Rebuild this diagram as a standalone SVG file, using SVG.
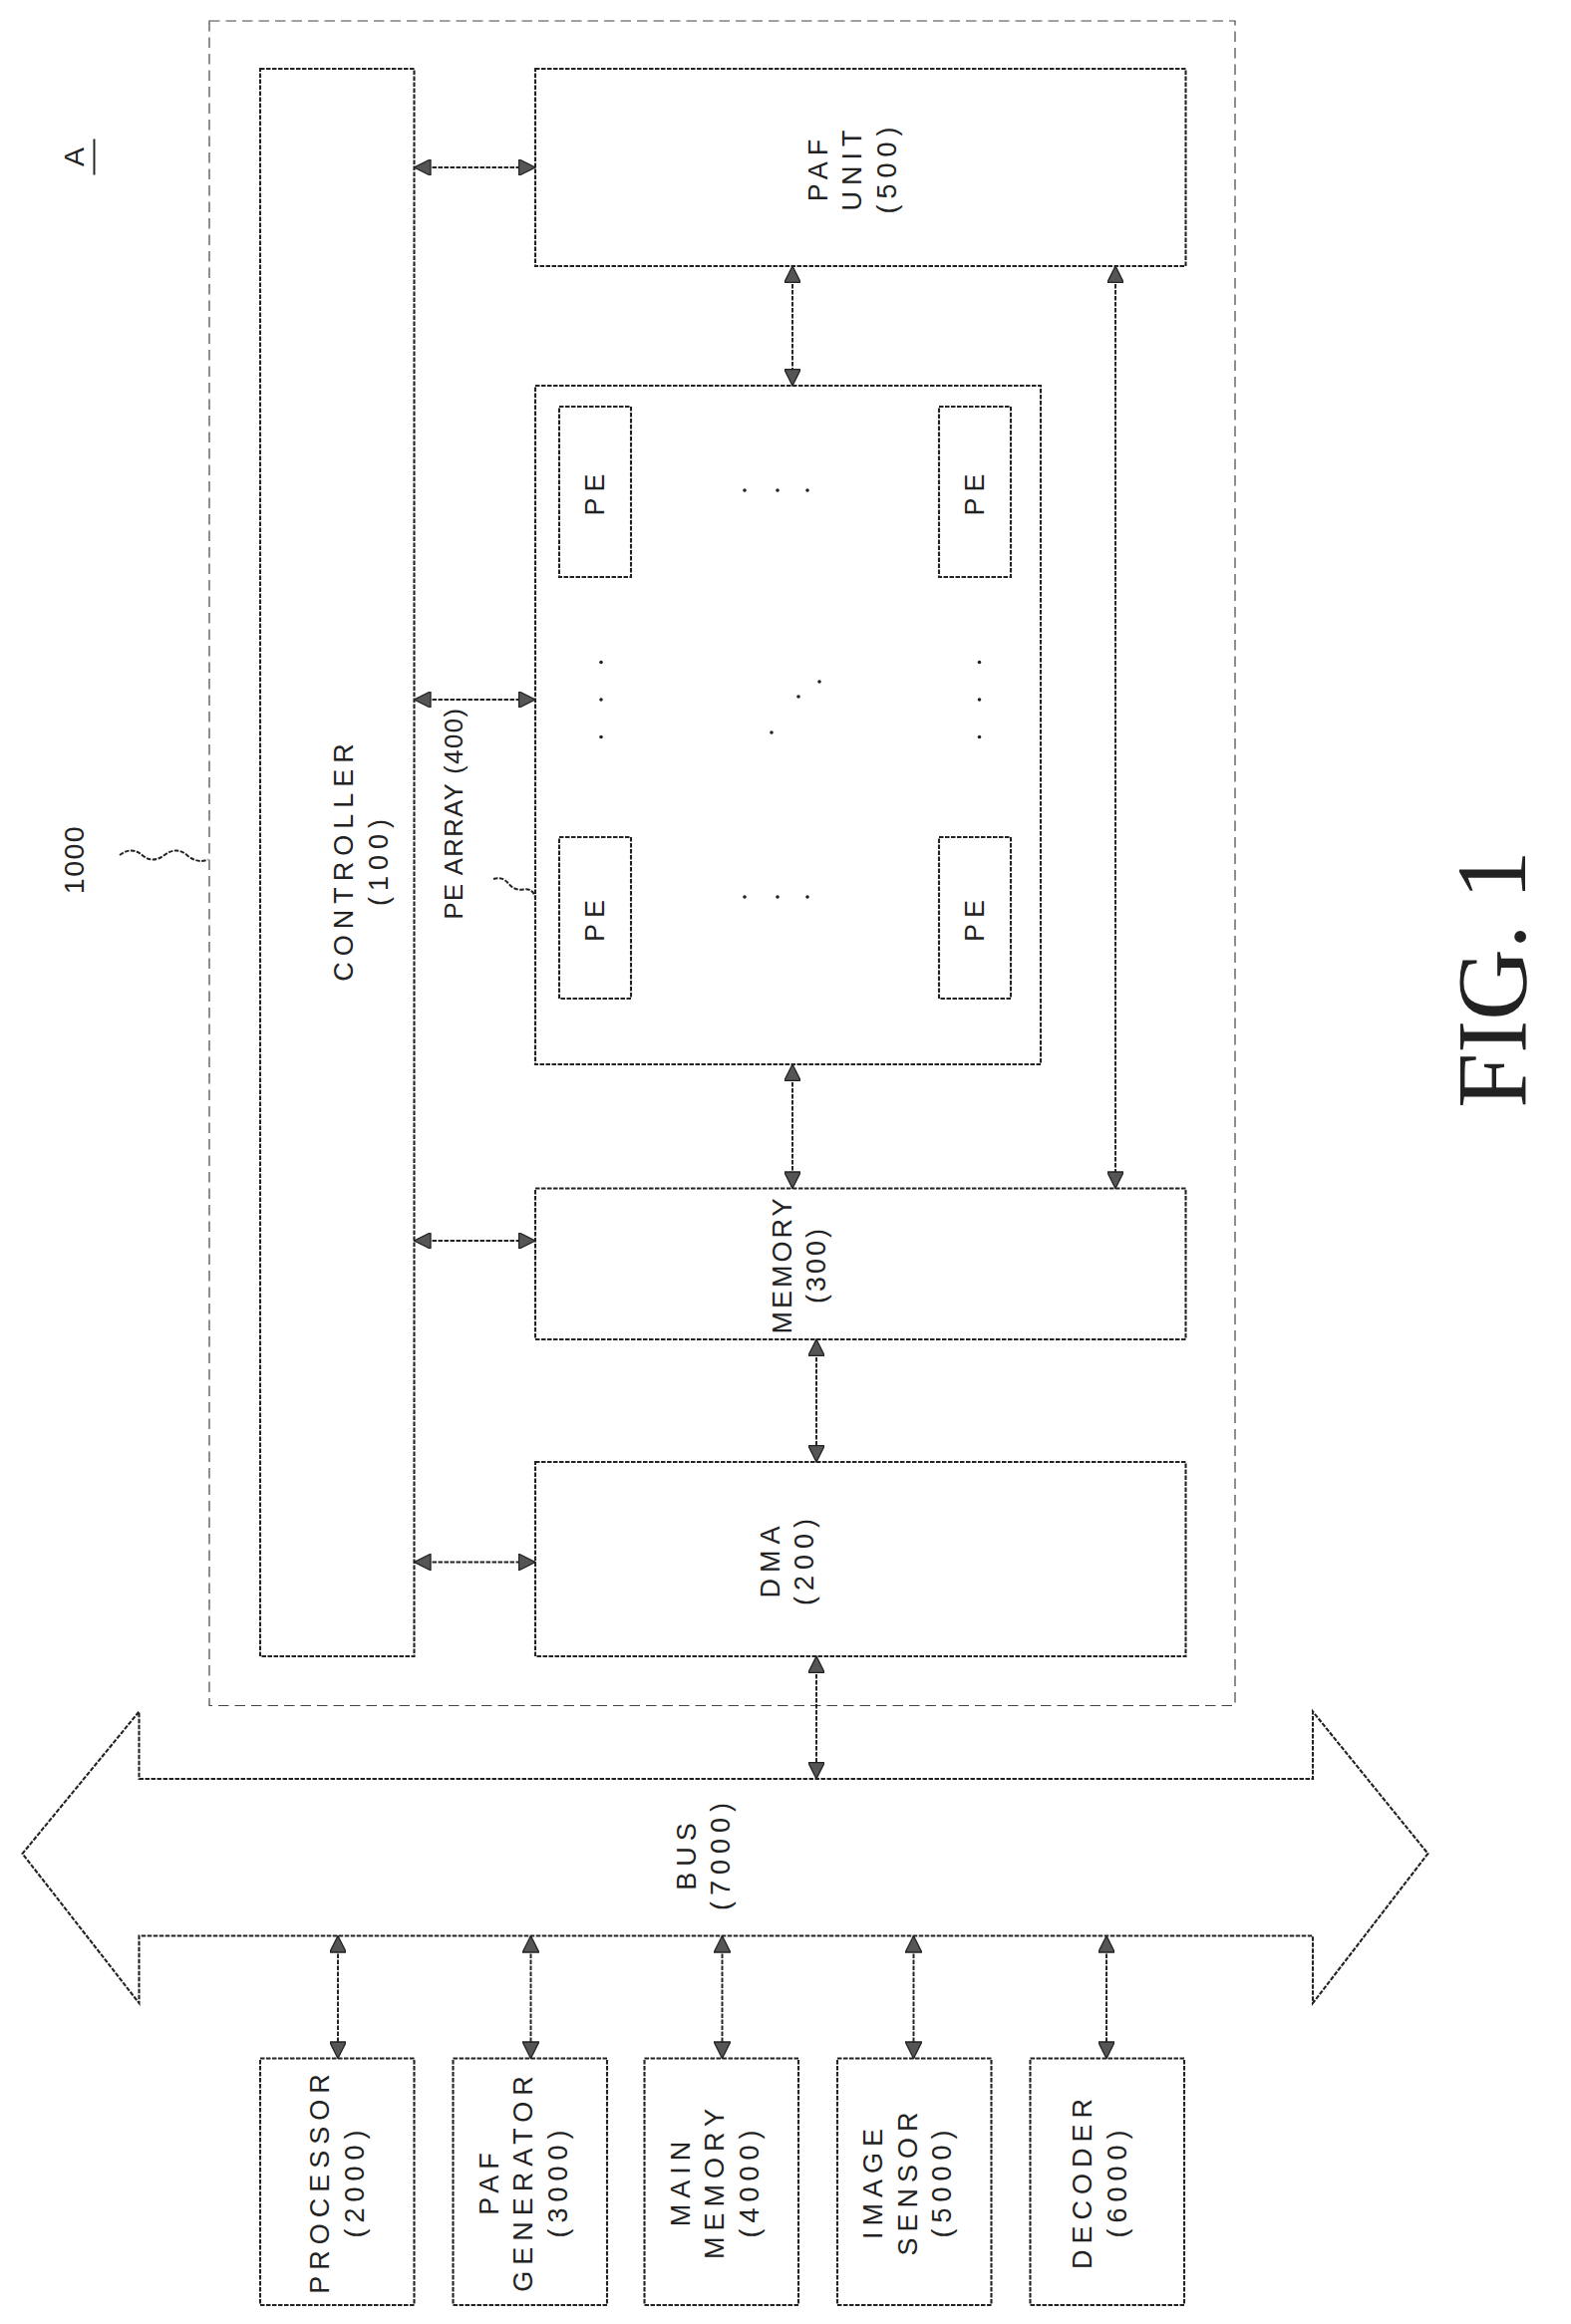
<svg xmlns="http://www.w3.org/2000/svg" width="1576" height="2332" viewBox="0 0 1576 2332">
<style>
.b{fill:none;stroke:#222;stroke-width:1.4;stroke-dasharray:3 1}
.l{stroke:#222;stroke-width:1.3;stroke-dasharray:3 1;fill:none}
.t{font-family:"Liberation Sans",Arial,sans-serif;font-size:18px;letter-spacing:4px;fill:#222;text-anchor:middle}
.dot{fill:#222}
</style>
<defs>
<marker id="ah" viewBox="0 0 10 10" refX="10" refY="5" markerWidth="12" markerHeight="11" orient="auto-start-reverse" markerUnits="userSpaceOnUse">
<path d="M0,0 L10,5 L0,10 Z" fill="#555" stroke="#222" stroke-width="0.8"/>
</marker>
</defs>
<rect width="1576" height="2332" fill="#fff"/>
<g transform="scale(1.5)">
<g id="outer"><rect x="140" y="14" width="686" height="1127" fill="none" stroke="#444" stroke-width="0.8" stroke-dasharray="7 4"/></g>
<g id="label1000"><text class="t" style="font-size:19px;letter-spacing:1px" transform="translate(56,575) rotate(-90)">1000</text><path d="M80,572 q8,-6 15,0 t15,0 t15,0 t14,3" class="l" stroke-dasharray="none"/></g>
<g id="labelA"><text class="t" style="font-size:19px;letter-spacing:0" transform="translate(56,105) rotate(-90)">A</text><line x1="63" y1="93" x2="63" y2="117" stroke="#222" stroke-width="1.3"/></g>
<g id="controller"><rect class="b" x="174" y="46" width="103" height="1062"/><text class="t" transform="translate(236,575) rotate(-90)">CONTROLLER<tspan x="0" dy="23">(100)</tspan></text></g>
<g id="paf"><rect class="b" x="358" y="46" width="435" height="132"/><text class="t" transform="translate(553,112) rotate(-90)">PAF<tspan x="0" dy="23">UNIT</tspan><tspan x="0" dy="23">(500)</tspan></text></g>
<g id="pearray"><rect class="b" x="358" y="258" width="338" height="454"/>
<text class="t" style="font-size:17px;letter-spacing:1px" transform="translate(309,544) rotate(-90)">PE ARRAY (400)</text>
<path d="M330,588 q6,-2 10,3 t10,4 t8,5" class="l" stroke-dasharray="none"/>
<rect class="b" x="374" y="272" width="48" height="114"/><text class="t" transform="translate(404,329) rotate(-90)">PE</text>
<rect class="b" x="628" y="272" width="48" height="114"/><text class="t" transform="translate(658,329) rotate(-90)">PE</text>
<rect class="b" x="374" y="560" width="48" height="108"/><text class="t" transform="translate(404,614) rotate(-90)">PE</text>
<rect class="b" x="628" y="560" width="48" height="108"/><text class="t" transform="translate(658,614) rotate(-90)">PE</text>
<circle class="dot" cx="498" cy="328" r="1.2"/><circle class="dot" cx="520" cy="328" r="1.2"/><circle class="dot" cx="540" cy="328" r="1.2"/>
<circle class="dot" cx="498" cy="600" r="1.2"/><circle class="dot" cx="520" cy="600" r="1.2"/><circle class="dot" cx="540" cy="600" r="1.2"/>
<circle class="dot" cx="402" cy="443" r="1.2"/><circle class="dot" cx="402" cy="468" r="1.2"/><circle class="dot" cx="402" cy="493" r="1.2"/>
<circle class="dot" cx="655" cy="443" r="1.2"/><circle class="dot" cx="655" cy="468" r="1.2"/><circle class="dot" cx="655" cy="493" r="1.2"/>
<circle class="dot" cx="516" cy="490" r="1.2"/><circle class="dot" cx="534" cy="466" r="1.2"/><circle class="dot" cx="548" cy="456" r="1.2"/>
</g>
<g id="memory"><rect class="b" x="358" y="795" width="435" height="101"/><text class="t" style="letter-spacing:2px" transform="translate(529,846) rotate(-90)">MEMORY<tspan x="0" dy="23">(300)</tspan></text></g>
<g id="dma"><rect class="b" x="358" y="978" width="435" height="130"/><text class="t" transform="translate(521,1043) rotate(-90)">DMA<tspan x="0" dy="23">(200)</tspan></text></g>
<g id="bus"><path class="b" d="M93,1190 L878,1190 L878,1145 L955,1240 L878,1340 L878,1295 L93,1295 L93,1340 L15,1240 L93,1145 Z"/><text class="t" transform="translate(465,1240) rotate(-90)">BUS<tspan x="0" dy="23">(7000)</tspan></text></g>
<g id="processor"><rect class="b" x="174" y="1377" width="103" height="165"/><text class="t" transform="translate(220,1459) rotate(-90)">PROCESSOR<tspan x="0" dy="23">(2000)</tspan></text></g>
<g id="pafgen"><rect class="b" x="303" y="1377" width="103" height="165"/><text class="t" transform="translate(333,1459) rotate(-90)">PAF<tspan x="0" dy="23">GENERATOR</tspan><tspan x="0" dy="23">(3000)</tspan></text></g>
<g id="mainmem"><rect class="b" x="431" y="1377" width="103" height="165"/><text class="t" transform="translate(461,1459) rotate(-90)">MAIN<tspan x="0" dy="23">MEMORY</tspan><tspan x="0" dy="23">(4000)</tspan></text></g>
<g id="imgsensor"><rect class="b" x="560" y="1377" width="103" height="165"/><text class="t" transform="translate(590,1459) rotate(-90)">IMAGE<tspan x="0" dy="23">SENSOR</tspan><tspan x="0" dy="23">(5000)</tspan></text></g>
<g id="decoder"><rect class="b" x="689" y="1377" width="103" height="165"/><text class="t" transform="translate(730,1459) rotate(-90)">DECODER<tspan x="0" dy="23">(6000)</tspan></text></g>
<g id="connectors" class="l" marker-start="url(#ah)" marker-end="url(#ah)">
<line x1="277" y1="112" x2="358" y2="112"/>
<line x1="277" y1="468" x2="358" y2="468"/>
<line x1="277" y1="830" x2="358" y2="830"/>
<line x1="277" y1="1045" x2="358" y2="1045"/>
<line x1="530" y1="178" x2="530" y2="258"/>
<line x1="530" y1="712" x2="530" y2="795"/>
<line x1="746" y1="178" x2="746" y2="795"/>
<line x1="546" y1="896" x2="546" y2="978"/>
<line x1="546" y1="1108" x2="546" y2="1190"/>
<line x1="226" y1="1295" x2="226" y2="1377"/>
<line x1="355" y1="1295" x2="355" y2="1377"/>
<line x1="483" y1="1295" x2="483" y2="1377"/>
<line x1="611" y1="1295" x2="611" y2="1377"/>
<line x1="740" y1="1295" x2="740" y2="1377"/>
</g>
<g id="fig"><text transform="translate(1020,655) rotate(-90)" style="font-family:'Liberation Serif','Times New Roman',serif;font-size:66px;text-anchor:middle;fill:#222">FIG. 1</text></g>
</g>
</svg>
